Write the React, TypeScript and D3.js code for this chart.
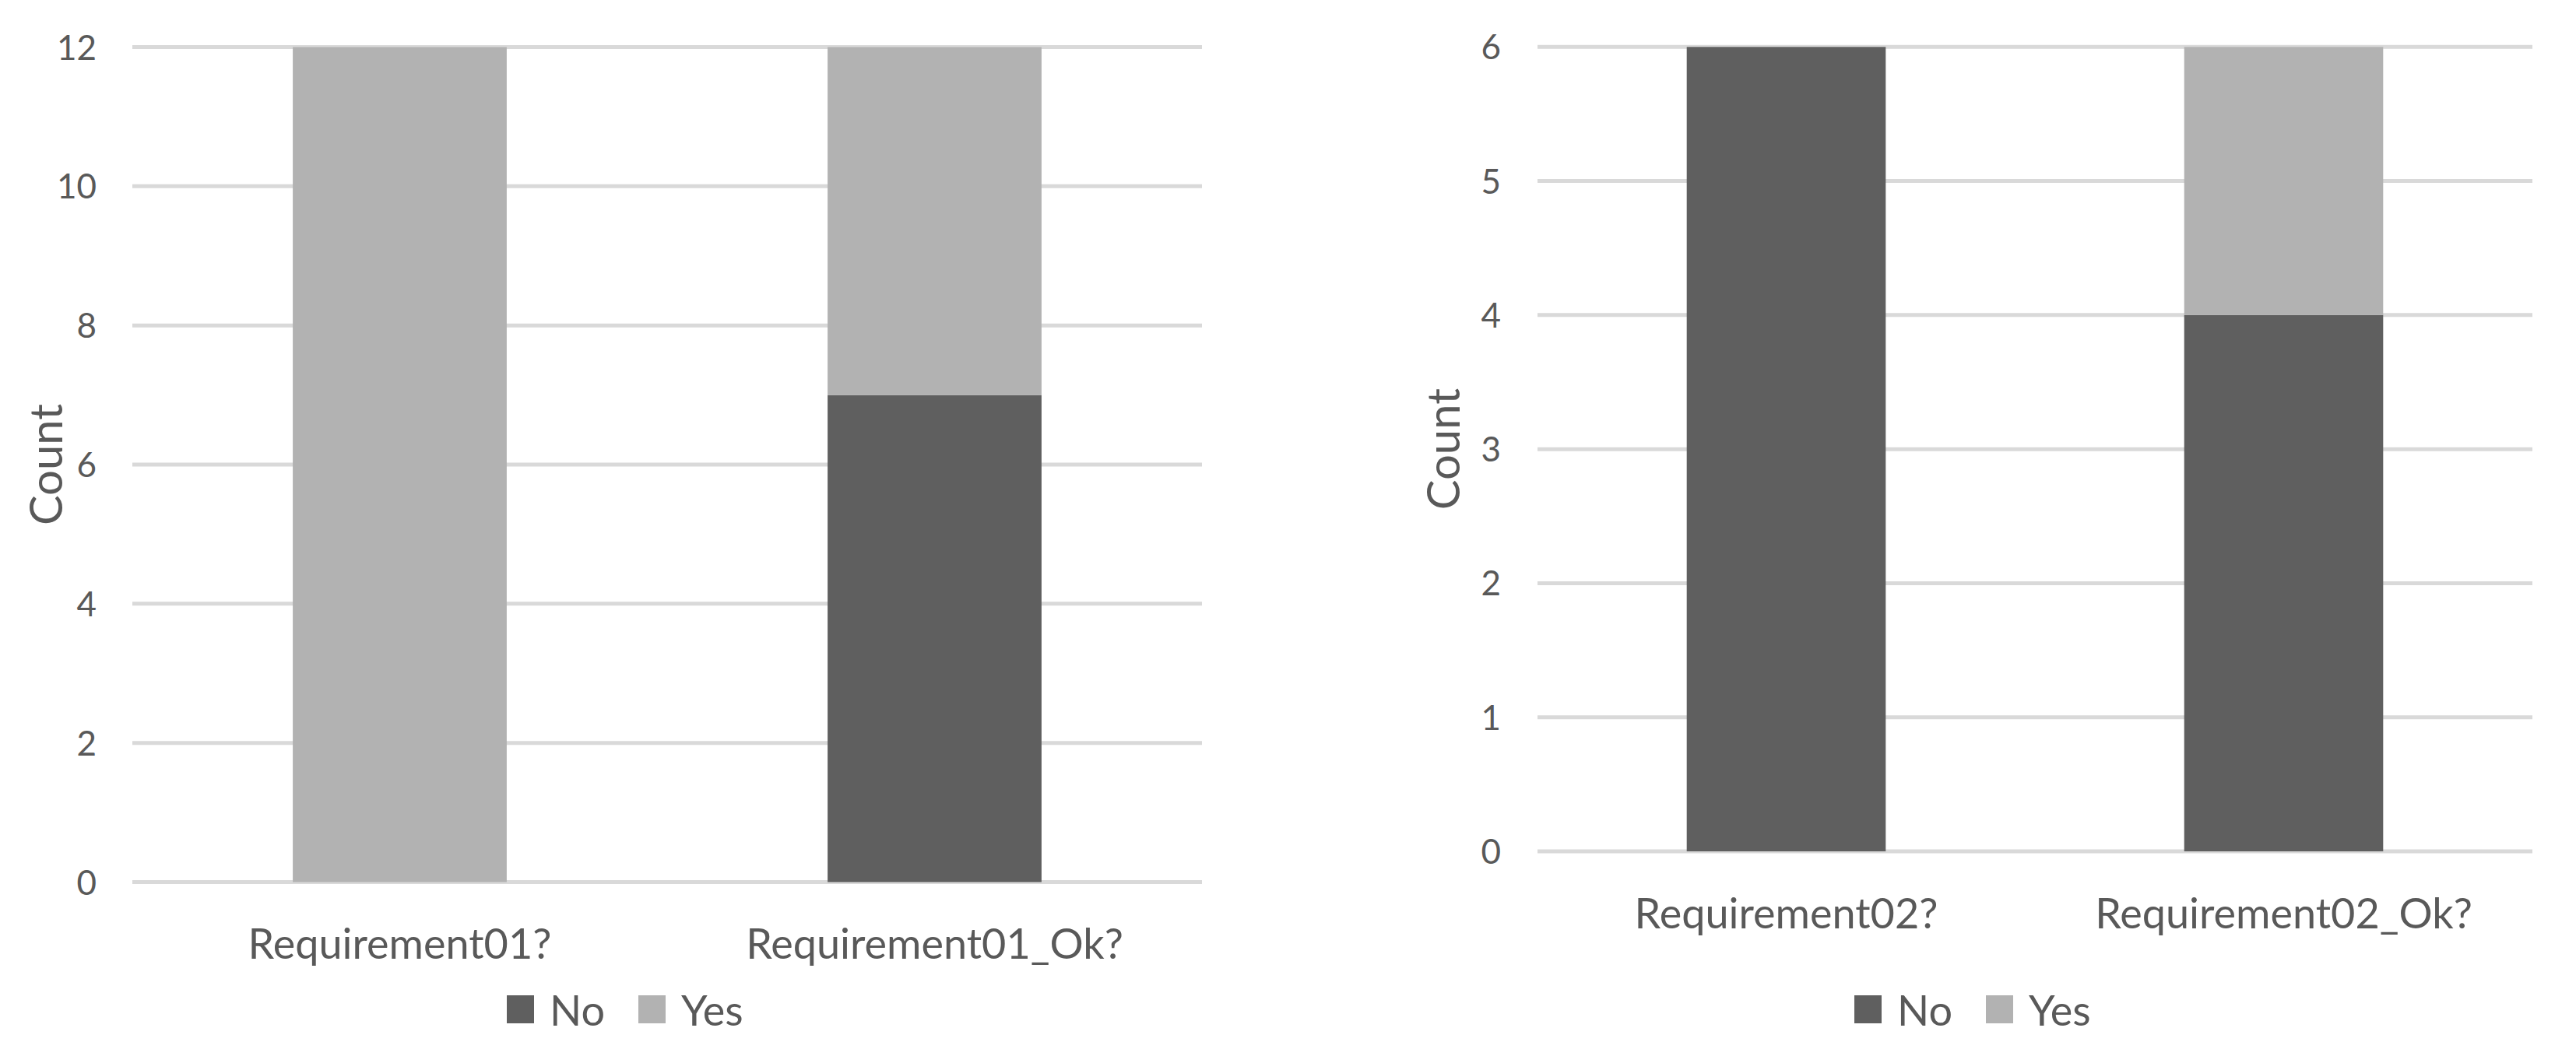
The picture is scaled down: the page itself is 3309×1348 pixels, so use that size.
import React from "react";
import * as d3 from "d3";

// ---- data ----
const seriesNames = ["No", "Yes"];
const seriesColors = ["#5f5f5f", "#b2b2b2"];

const categories1 = ["Requirement01?", "Requirement01_Ok?"];
const no1 = [0, 7];
const yes1 = [12, 5];
const ticks1 = [0, 2, 4, 6, 8, 10, 12];

const categories2 = ["Requirement02?", "Requirement02_Ok?"];
const no2 = [6, 4];
const yes2 = [0, 2];
const ticks2 = [0, 1, 2, 3, 4, 5, 6];

const yTitle = "Count";

const FONT = "Lato, Calibri, 'Open Sans', sans-serif";
const TEXT = "#595959";
const GRID = "#d9d9d9";

type PanelProps = {
  categories: string[];
  no: number[];
  yes: number[];
  ticks: number[];
  x0: number;
  x1: number;
  yTop: number;
  yBottom: number;
  tickLabelRight: number;
  titleBaselineX: number;
  catBaselineOffset: number;
  legendX: number;
};

function Panel(p: PanelProps) {
  const maxV = p.ticks[p.ticks.length - 1];
  const y = d3.scaleLinear().domain([0, maxV]).range([p.yBottom, p.yTop]);
  const x = d3.scaleBand<string>().domain(p.categories).range([p.x0, p.x1]).padding(0);
  const barW = x.bandwidth() * 0.4;
  const rows = p.categories.map((c, i) => ({ cat: c, No: p.no[i], Yes: p.yes[i] }));
  const stacked = d3.stack<any>().keys(seriesNames)(rows);
  const midY = (p.yTop + p.yBottom) / 2;
  const legendY = 1279;
  return (
    <g>
      {p.ticks.map((t) => (
        <line key={"g" + t} x1={p.x0} x2={p.x1} y1={y(t)} y2={y(t)} stroke={GRID} strokeWidth={5} />
      ))}
      {p.ticks.map((t) => (
        <text key={"t" + t} x={p.tickLabelRight} y={y(t) + 16} textAnchor="end" fontSize={44} fill={TEXT} fontFamily={FONT}>
          {t}
        </text>
      ))}
      {stacked.map((s, si) =>
        s.map((d, i) => {
          const h = y(d[0]) - y(d[1]);
          if (h <= 0) return null;
          return (
            <rect
              key={si + "-" + i}
              x={(x(p.categories[i]) as number) + (x.bandwidth() - barW) / 2}
              y={y(d[1])}
              width={barW}
              height={h}
              fill={seriesColors[si]}
            />
          );
        })
      )}
      {p.categories.map((c) => (
        <text
          key={"c" + c}
          x={(x(c) as number) + x.bandwidth() / 2}
          y={p.yBottom + p.catBaselineOffset}
          textAnchor="middle"
          fontSize={54}
          fill={TEXT}
          fontFamily={FONT}
        >
          {c}
        </text>
      ))}
      <text
        transform={`translate(${p.titleBaselineX},${midY}) rotate(-90)`}
        textAnchor="middle"
        fontSize={58}
        fill={TEXT}
        fontFamily={FONT}
      >
        {yTitle}
      </text>
      {seriesNames.map((n, i) => (
        <g key={"l" + n} transform={`translate(${p.legendX + i * 169},${legendY})`}>
          <rect x={0} y={0} width={35} height={36} fill={seriesColors[i]} />
          <text x={55} y={39} fontSize={54} fill={TEXT} fontFamily={FONT}>
            {n}
          </text>
        </g>
      ))}
    </g>
  );
}

export default function App() {
  return (
    <svg
      width={3309}
      height={1348}
      viewBox="0 0 3309 1348"
      style={{ position: "absolute", left: 0, top: 0, background: "#fff" }}
    >
      <rect x={0} y={0} width={3309} height={1348} fill="#fff" />
      <Panel
        categories={categories1}
        no={no1}
        yes={yes1}
        ticks={ticks1}
        x0={170}
        x1={1544}
        yTop={60.5}
        yBottom={1133.5}
        tickLabelRight={124}
        titleBaselineX={80}
        catBaselineOffset={98.5}
        legendX={651}
      />
      <Panel
        categories={categories2}
        no={no2}
        yes={yes2}
        ticks={ticks2}
        x0={1975}
        x1={3253}
        yTop={60.3}
        yBottom={1094}
        tickLabelRight={1928}
        titleBaselineX={1875}
        catBaselineOffset={98.5}
        legendX={2382}
      />
    </svg>
  );
}
